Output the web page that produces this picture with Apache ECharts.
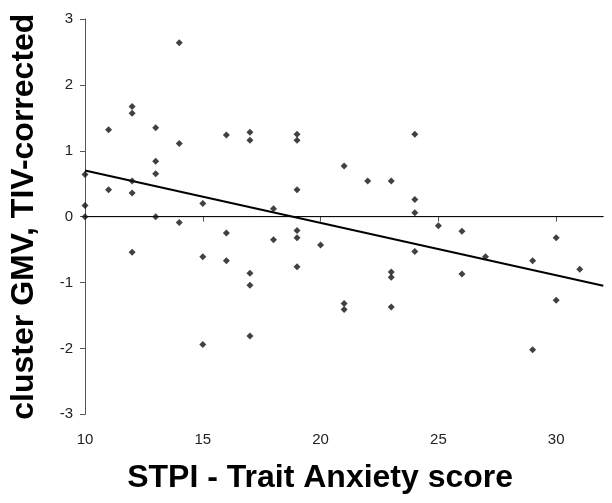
<!DOCTYPE html>
<html>
<head>
<meta charset="utf-8">
<script src="https://cdn.jsdelivr.net/npm/echarts@6/dist/echarts.min.js"></script>
<style>
html,body{margin:0;padding:0;background:#fff;}
#chart{width:612px;height:503px;}
</style>
</head>
<body>
<div id="chart"></div>
<script>
// Trait anxiety scores (x) and cluster GMV (y)
var anxietyScores = [10,10,10, 11,11, 12,12,12,12,12, 13,13,13,13, 14,14,14, 15,15,15, 16,16,16,
  17,17,17,17,17, 18,18, 19,19,19,19,19,19, 20, 21,21,21, 22, 23,23,23,23, 24,24,24,24, 25, 26,26, 27, 29,29, 30,30, 31];
var gmvValues = [0.64,0.17,0.00, 1.32,0.41, 1.67,1.57,0.54,0.36,-0.54, 1.35,0.84,0.65,0.00, 2.64,1.11,-0.09, 0.20,-0.61,-1.94, 1.24,-0.25,-0.67,
  1.28,1.16,-0.86,-1.04,-1.81, 0.12,-0.35, 1.25,1.16,0.41,-0.21,-0.32,-0.76, -0.43, 0.77,-1.32,-1.41, 0.54, 0.54,-0.84,-0.92,-1.37, 1.25,0.26,0.06,-0.53, -0.14, -0.22,-0.87, -0.61, -0.67,-2.02, -0.32,-1.27, -0.80];
// Regression line end points
var trendX = [10, 32];
var trendY = [0.70, -1.05];
var xTicks = [10, 15, 20, 25, 30];
var yTicks = [-3, -2, -1, 0, 1, 2, 3];

var points = anxietyScores.map(function(x, i){ return [x, gmvValues[i]]; });
var trend = trendX.map(function(x, i){ return [x, trendY[i]]; });

var chart = echarts.init(document.getElementById('chart'), null, {renderer:'canvas'});
var labelFont = {fontFamily:'Liberation Sans, Arial, sans-serif', fontSize:15, color:'#222'};
chart.setOption({
  animation:false,
  backgroundColor:'#fff',
  grid:{left:84.7, right:8.7, top:19, bottom:88.7},
  xAxis:{
    type:'value', min:10, max:32, interval:5,
    name:'STPI - Trait Anxiety score', nameLocation:'middle', nameGap:48,
    nameTextStyle:{fontFamily:'Liberation Sans, Arial, sans-serif', fontWeight:'bold', fontSize:32, color:'#000', padding:[0,48,0,0]},
    axisLine:{show:true, lineStyle:{color:'#555', width:1}},
    axisTick:{show:true, length:5, lineStyle:{color:'#555'}},
    axisLabel:Object.assign({margin:18, showMaxLabel:false,
      formatter:function(v){ return xTicks.indexOf(v) >= 0 ? String(v) : ''; }}, labelFont),
    splitLine:{show:false}
  },
  yAxis:{
    type:'value', min:-3, max:3, interval:1,
    name:'cluster GMV, TIV-corrected', nameLocation:'middle', nameGap:45,
    nameTextStyle:{fontFamily:'Liberation Sans, Arial, sans-serif', fontWeight:'bold', fontSize:32, color:'#000'},
    axisLine:{show:true, lineStyle:{color:'#555', width:1}},
    axisTick:{show:true, length:5, lineStyle:{color:'#555'}},
    axisLabel:Object.assign({margin:12,
      formatter:function(v){ return yTicks.indexOf(v) >= 0 ? String(v) : ''; }}, labelFont),
    splitLine:{show:false}
  },
  series:[
    {
      type:'line', data:[[trendX[0],0],[trendX[1],0]], symbol:'none',
      lineStyle:{color:'#000', width:1}, silent:true, z:1
    },
    {
      type:'line', data:trend, symbol:'none',
      lineStyle:{color:'#000', width:2}, silent:true, z:2
    },
    {
      type:'scatter', data:points, symbol:'diamond', symbolSize:7,
      itemStyle:{color:'#111'}, z:3
    }
  ]
});
</script>
</body>
</html>
